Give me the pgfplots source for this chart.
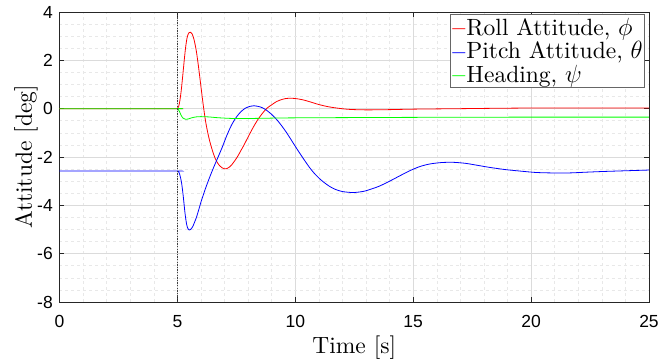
\documentclass[border=0pt]{standalone}
\usepackage{fontspec}
\setmainfont{lmroman10-regular.otf}
\usepackage{pgfplots}
\pgfplotsset{compat=1.18}
\newfontfamily\ticksf{Liberation Sans}
\newfontfamily\redl{Liberation Sans}[Color=FF0000]
\newfontfamily\bluel{Liberation Sans}[Color=0000FF]
\newfontfamily\greenl{Liberation Sans}[Color=00FF00]
\definecolor{mgreen}{rgb}{0,1,0}
\newcommand{\lstrut}{\rule[-6pt]{0pt}{24pt}}
\newcommand{\lline}[1]{\raisebox{2.4pt}{\fontsize{13}{13}#1\char"2014}\hspace{1pt}}
\begin{document}
\begin{tikzpicture}
\begin{axis}[
  scale only axis, width=589.5pt, height=290pt,
  xmin=0, xmax=25, ymin=-8, ymax=4,
  xtick={0,5,10,15,20,25}, ytick={-8,-6,-4,-2,0,2,4},
  xticklabels={0,5,10,15,20,25}, yticklabels={-8,-6,-4,-2,0,2,4},
  minor x tick num=4, minor y tick num=3,
  grid=both,
  major grid style={black!14, line width=0.6pt},
  minor grid style={black!9, dashed, line width=0.5pt},
  minor tick length=0pt, major tick length=5pt,
  tick align=inside,
  axis line style={black!85, line width=0.8pt},
  every tick/.style={black!85, line width=0.6pt},
  xticklabel style={font=\fontsize{17.5}{18}\ticksf, inner sep=0pt, anchor=north, yshift=-13pt},
  yticklabel style={font=\fontsize{17.5}{18}\ticksf, inner sep=0pt, anchor=east, xshift=-6.5pt},
  xlabel={Time [s]}, ylabel={Attitude [deg]},
  label style={font=\fontsize{23.5}{28}\selectfont},
  xlabel style={at={(axis description cs:0.5,-0.1759)}, anchor=base},
  ylabel style={at={(axis description cs:-0.0467,0.5)}, anchor=base},
  legend style={at={(axis description cs:0.993,0.993)}, anchor=north east,
    draw=black!60, fill=white, inner xsep=2pt, inner ysep=3pt,
    font=\fontsize{23.5}{28}\selectfont, row sep=4pt, column sep=0pt,
    nodes={inner sep=0pt},
    cells={anchor=west}},
  legend image code/.code={},
  every axis plot/.append style={line width=0.8pt},
]
\addplot[draw=red, smooth] coordinates {
(0,0) (4.9,0) (5,0) (5.05,0.08) (5.1,0.3) (5.15,0.65) (5.2,1.1) (5.25,1.6) (5.3,2.1)
(5.35,2.55) (5.4,2.88) (5.45,3.07) (5.5,3.15) (5.56,3.16) (5.62,3.10) (5.7,2.88)
(5.8,2.4) (5.9,1.7) (6.0,0.9) (6.1,0.12) (6.2,-0.55) (6.3,-1.05) (6.4,-1.45)
(6.5,-1.78) (6.6,-2.05) (6.7,-2.24) (6.8,-2.37) (6.9,-2.45) (7.0,-2.49) (7.1,-2.48)
(7.2,-2.42) (7.3,-2.33) (7.4,-2.2) (7.5,-2.06) (7.6,-1.9) (7.7,-1.72) (7.8,-1.55)
(8.0,-1.17) (8.2,-0.8) (8.4,-0.47) (8.6,-0.2) (8.8,0.02) (9.0,0.16) (9.2,0.29)
(9.4,0.37) (9.6,0.42) (9.8,0.43) (10.0,0.42) (10.3,0.37) (10.6,0.29) (11.0,0.17)
(11.4,0.08) (11.8,0.02) (12.3,-0.03) (13,-0.05) (14,-0.04) (15,-0.02) (17,0.0)
(19,0.02) (21,0.03) (25,0.03)
};
\addlegendentry{\lline{\redl}\lstrut Roll Attitude, $\phi$}
\addplot[draw=blue, smooth] coordinates {
(0,-2.58) (4.9,-2.58) (5,-2.58) (5.06,-2.62) (5.12,-2.8) (5.18,-3.09) (5.25,-3.64)
(5.32,-4.3) (5.39,-4.78) (5.45,-4.97) (5.5,-5.02) (5.56,-5.0) (5.64,-4.9) (5.72,-4.72)
(5.81,-4.49) (5.9,-4.2) (6.02,-3.8) (6.2,-3.28) (6.38,-2.81) (6.55,-2.4) (6.7,-2.06)
(6.9,-1.6) (7.1,-1.1) (7.3,-0.67) (7.5,-0.35) (7.7,-0.12) (7.9,0.03) (8.1,0.1)
(8.25,0.12) (8.4,0.1) (8.6,0.04) (8.8,-0.08) (9.0,-0.24) (9.2,-0.44) (9.4,-0.68)
(9.6,-0.95) (9.8,-1.25) (10.0,-1.56) (10.2,-1.86) (10.4,-2.15) (10.6,-2.43)
(10.8,-2.67) (11.0,-2.87) (11.2,-3.04) (11.46,-3.22) (11.7,-3.34) (12.0,-3.43)
(12.45,-3.47) (12.9,-3.42) (13.3,-3.3) (13.58,-3.2) (14.0,-3.0) (14.43,-2.78)
(14.85,-2.57) (15.27,-2.4) (15.7,-2.29) (16.2,-2.23) (16.69,-2.22) (17.2,-2.26)
(17.7,-2.34) (18.24,-2.43) (18.9,-2.52) (19.51,-2.58) (20.2,-2.64) (20.92,-2.66)
(21.6,-2.66) (22.3,-2.63) (23.04,-2.6) (24,-2.57) (25,-2.54)
};
\addlegendentry{\lline{\bluel}\lstrut Pitch Attitude, $\theta$}
\addplot[draw=mgreen, smooth] coordinates {
(0,0) (4.9,0) (5,0) (5.08,-0.1) (5.16,-0.28) (5.25,-0.4) (5.35,-0.44) (5.45,-0.43)
(5.6,-0.38) (5.8,-0.34) (6.0,-0.33) (6.3,-0.34) (6.8,-0.38) (7.5,-0.41)
(8.5,-0.40) (10,-0.38) (15,-0.36) (20,-0.35) (25,-0.35)
};
\addlegendentry{\lline{\greenl}\lstrut Heading, $\psi$}
\addplot[draw=black!75, line width=0.9pt, dash pattern=on 1.3pt off 1.3pt, forget plot]
  coordinates {(5,-8) (5,4)};
\end{axis}
\pgfresetboundingbox
\path (-59.5pt,-62pt) rectangle (605.5pt,302pt);
\end{tikzpicture}
\end{document}
